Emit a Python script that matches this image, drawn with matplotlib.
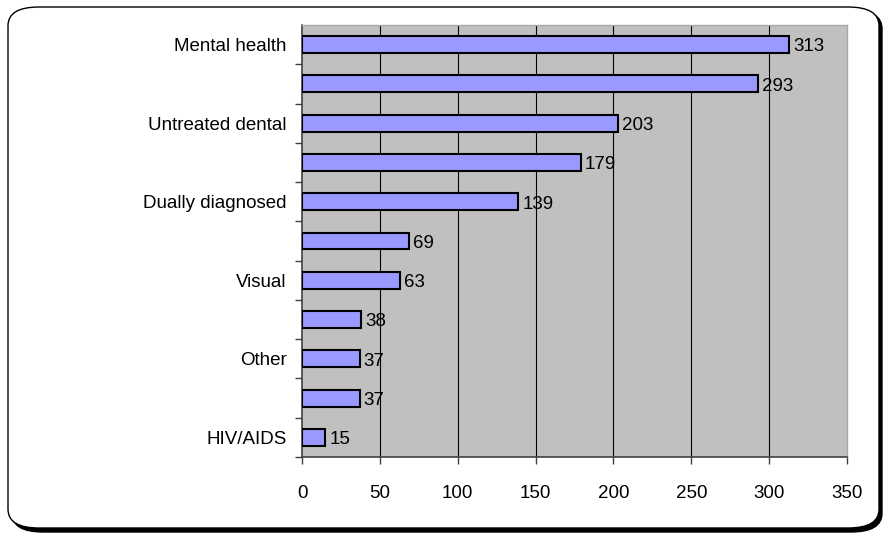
import matplotlib
matplotlib.use("Agg")
import matplotlib.pyplot as plt
from matplotlib.patches import FancyBboxPatch

# categories from top to bottom; only every other name is printed on the axis
categories = ["Mental health", "", "Untreated dental", "", "Dually diagnosed",
              "", "Visual", "", "Other", "", "HIV/AIDS"]
counts = [313, 293, 203, 179, 139, 69, 63, 38, 37, 37, 15]
xticks = [0, 50, 100, 150, 200, 250, 300, 350]

plt.rcParams['font.family'] = ['Liberation Sans', 'DejaVu Sans']
plt.rcParams['font.size'] = 13.5

fig = plt.figure(figsize=(8.85, 5.35), dpi=100)

# rounded frame with a dark drop shadow
shadow = FancyBboxPatch((12 / 885, 1 - 532 / 535), 870 / 885, 522 / 535,
                        boxstyle="round,pad=0,rounding_size=0.035",
                        transform=fig.transFigure, facecolor="black",
                        edgecolor="black", zorder=0)
frame = FancyBboxPatch((8 / 885, 1 - 528 / 535), 871 / 885, 521 / 535,
                       boxstyle="round,pad=0,rounding_size=0.035",
                       transform=fig.transFigure, facecolor="white",
                       edgecolor="black", linewidth=1.0, zorder=1)
fig.patches.extend([shadow, frame])

ax = fig.add_axes([302 / 885, 1 - 457 / 535, 545 / 885, 432 / 535])
ax.set_zorder(2)
ax.set_facecolor("#C0C0C0")

pos = list(range(len(counts)))
ax.barh(pos, counts, height=0.43, color="#9999FF", edgecolor="black",
        linewidth=1.5, zorder=3)
for p, v in zip(pos, counts):
    ax.text(v + 2.5, p + 0.06, str(v), va="center", ha="left", zorder=4)

ax.set_xlim(0, 350)
ax.set_ylim(len(counts) - 0.5, -0.5)
ax.set_xticks(xticks)
ax.set_xticklabels([str(t) for t in xticks])

# vertical gridlines at the inner ticks only
for t in xticks[1:-1]:
    ax.axvline(t, color="black", linewidth=0.8, zorder=1)

# labels sit on the categories, tick marks sit between them
ax.set_yticks(pos)
ax.set_yticklabels(categories)
ax.set_yticks([p + 0.5 for p in pos], minor=True)
ax.tick_params(axis="y", which="major", length=0, pad=11)
ax.tick_params(axis="y", which="minor", length=5, width=1, color="#404040")
ax.tick_params(axis="x", length=5, width=1, color="#404040", pad=15)

for side in ["top", "right"]:
    ax.spines[side].set_color("#A8A8A8")
    ax.spines[side].set_linewidth(1.0)
for side in ["left", "bottom"]:
    ax.spines[side].set_color("#404040")
    ax.spines[side].set_linewidth(1.2)

fig.savefig("out.png", dpi=100)
